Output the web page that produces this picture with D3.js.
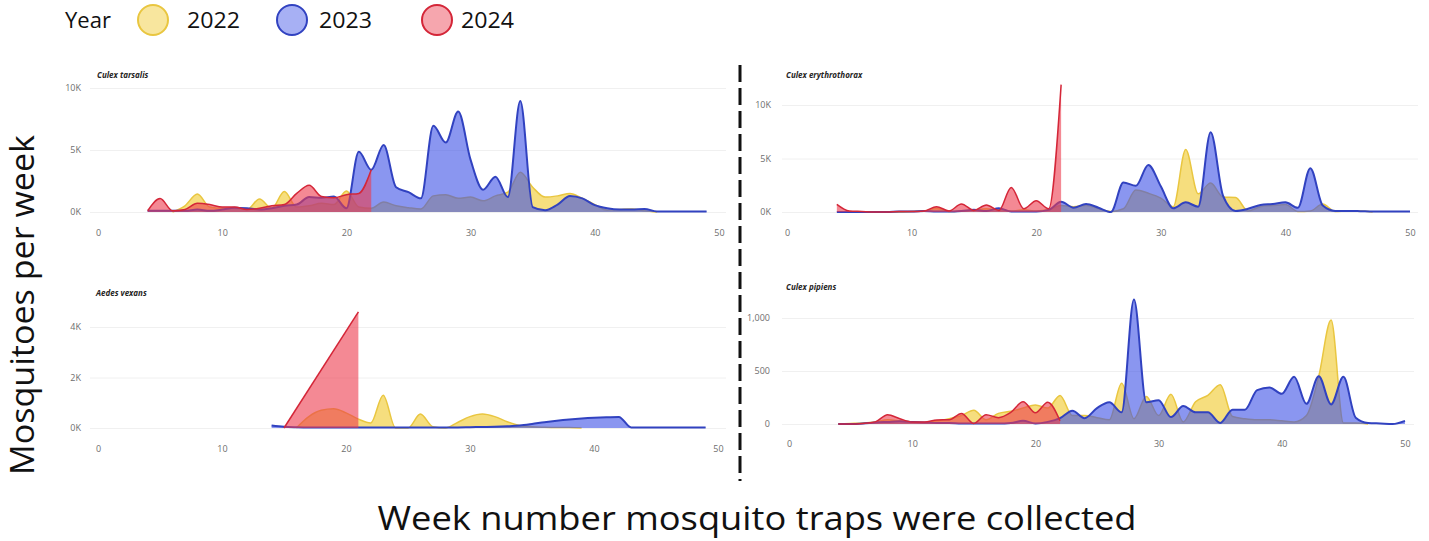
<!DOCTYPE html>
<html>
<head>
<meta charset="utf-8">
<script src="https://cdn.jsdelivr.net/npm/d3@7"></script>
<style>
  body { margin: 0; background: #fff; }
  svg { display: block; }
  text { font-family: "Open Sans", "Noto Sans", sans-serif; }
</style>
</head>
<body>
<svg id="chart" width="1429" height="541"></svg>
<script>
// ---- Data -------------------------------------------------------------
const years = ["2022", "2023", "2024"];
const weekTicks = [0, 10, 20, 30, 40, 50];

// Culex tarsalis (weekly counts)
const tarsalisStart2022 = 6;
const tarsalis2022 = [0, 500, 1450, 400, 300, 300, 200, 1050, 300, 1650, 400, 500, 700, 600, 1700, 400, 300, 800,
  500, 350, 250, 1300, 1400, 1100, 1200, 900, 1300, 1600, 3200, 2000, 1200, 1300, 1500, 1100, 600, 150, 200, 250, 100, 0];
const tarsalisStart2023 = 4;
const tarsalis2023 = [100, 100, 100, 100, 200, 100, 200, 350, 300, 200, 300, 500, 600, 1200, 1150, 1250, 300, 4850,
  3400, 5400, 2000, 1600, 1100, 6950, 5600, 8100, 4200, 1800, 2850, 1200, 8950, 400, 150, 600, 1300, 1100, 550, 300,
  200, 200, 250, 50, 50, 50, 50, 50];
const tarsalisStart2024 = 4;
const tarsalis2024 = [100, 1080, 100, 200, 700, 600, 400, 400, 200, 300, 500, 600, 1500, 2150, 1250, 1150, 1400, 1500, 3400];
const tarsalisTicks = [0, 5000, 10000];
const tarsalisTickLabels = ["0K", "5K", "10K"];

// Culex erythrothorax (weekly counts)
const erythroStart2022 = 8;
const erythro2022 = [0, 0, 50, 100, 350, 50, 100, 200, 300, 200, 100, 200, 100, 200, 600, 500, 600, 300, 50, 300,
  2050, 1750, 1300, 500, 5850, 1700, 2700, 1400, 1350, 100, 500, 600, 700, 50, 100, 750, 50, 100, 100, 0];
const erythroStart2023 = 4;
const erythro2023 = [0, 0, 0, 0, 0, 50, 50, 100, 50, 50, 100, 200, 100, 350, 50, 50, 50, 200, 950, 400, 750, 400, 0,
  2750, 2450, 4400, 2400, 350, 900, 500, 7450, 1500, 100, 300, 650, 750, 900, 400, 4100, 600, 100, 100, 80, 50, 50, 50, 50];
const erythroStart2024 = 4;
const erythro2024 = [720, 100, 50, 0, 0, 50, 50, 100, 500, 100, 750, 150, 650, 150, 2300, 300, 1050, 300, 11900];
const erythroTicks = [0, 5000, 10000];
const erythroTickLabels = ["0K", "5K", "10K"];

// Aedes vexans (weekly counts)
const vexansStart2022 = 16;
const vexans2022 = [0, 450, 700, 760, 600, 350, 200, 1300, 0, 0, 550, 50, 0, 220, 450, 550, 450, 250, 100, 50, 30, 20, 20, 0];
const vexansStart2023 = 14;
const vexans2023 = [100, 50, 30, 20, 20, 20, 20, 20, 20, 20, 20, 20, 20, 20, 20, 20, 30, 40, 50, 70, 100, 160, 230,
  290, 340, 380, 410, 430, 440, 20, 20, 20, 20, 20, 20, 20];
const vexansWeeks2024 = [15, 21];
const vexans2024 = [0, 4600];
const vexansTicks = [0, 2000, 4000];
const vexansTickLabels = ["0K", "2K", "4K"];

// Culex pipiens (weekly counts)
const pipiensStart2022 = 4;
const pipiens2022 = [0, 5, 10, 20, 40, 30, 20, 10, 30, 50, 80, 130, 40, 100, 120, 150, 180, 150, 270, 80, 80, 60, 40,
  385, 50, 260, 80, 280, 20, 210, 270, 370, 70, 50, 40, 40, 30, 20, 80, 450, 980, 10, 10, 0];
const pipiensStart2023 = 4;
const pipiens2023 = [0, 0, 5, 15, 20, 25, 20, 15, 10, 10, 5, 5, 5, 5, 10, 30, 5, 20, 55, 125, 55, 150, 205, 110, 1175,
  205, 225, 65, 170, 110, 110, 10, 135, 135, 320, 345, 285, 445, 190, 450, 185, 445, 60, 10, 5, 0, 30];
const pipiensStart2024 = 4;
const pipiens2024 = [0, 0, 5, 20, 88, 50, 20, 20, 38, 40, 100, 5, 88, 60, 110, 210, 105, 205, 30];
const pipiensTicks = [0, 500, 1000];
const pipiensTickLabels = ["0", "500", "1,000"];

// ---- Styling -----------------------------------------------------------
const fillColors = { "2022": "#F0C828", "2023": "#3C50E6", "2024": "#EC3A4C" };
const lineColors = { "2022": "#E9C640", "2023": "#3142C0", "2024": "#D42638" };
const lineWidths = { "2022": 1.5, "2023": 2, "2024": 1.5 };

function series(weeks, values, year) { return { weeks, values, year }; }
function fromStart(start, values, year) { return series(d3.range(start, start + values.length), values, year); }

const panels = [
  { title: "Culex tarsalis", left: 98, right: 719, bottom: 212, top: 88, yMax: 10000,
    ticks: tarsalisTicks, labels: tarsalisTickLabels, gridLeft: 90, gridRight: 726, labelRight: 81,
    titleX: 97, titleY: 78, xLabelY: 230,
    series: [fromStart(tarsalisStart2022, tarsalis2022, "2022"), fromStart(tarsalisStart2023, tarsalis2023, "2023"),
             fromStart(tarsalisStart2024, tarsalis2024, "2024")] },
  { title: "Culex erythrothorax", left: 787, right: 1410, bottom: 212, top: 105, yMax: 10000,
    ticks: erythroTicks, labels: erythroTickLabels, gridLeft: 782, gridRight: 1418, labelRight: 771,
    titleX: 786, titleY: 78, xLabelY: 230,
    series: [fromStart(erythroStart2022, erythro2022, "2022"), fromStart(erythroStart2023, erythro2023, "2023"),
             fromStart(erythroStart2024, erythro2024, "2024")] },
  { title: "Aedes vexans", left: 98, right: 718, bottom: 428, top: 327, yMax: 4000,
    ticks: vexansTicks, labels: vexansTickLabels, gridLeft: 90, gridRight: 726, labelRight: 81,
    titleX: 96, titleY: 296, xLabelY: 446,
    series: [fromStart(vexansStart2022, vexans2022, "2022"), fromStart(vexansStart2023, vexans2023, "2023"),
             series(vexansWeeks2024, vexans2024, "2024")] },
  { title: "Culex pipiens", left: 789, right: 1405, bottom: 424, top: 318, yMax: 1000,
    ticks: pipiensTicks, labels: pipiensTickLabels, gridLeft: 782, gridRight: 1414, labelRight: 770,
    titleX: 786, titleY: 290, xLabelY: 441,
    series: [fromStart(pipiensStart2022, pipiens2022, "2022"), fromStart(pipiensStart2023, pipiens2023, "2023"),
             fromStart(pipiensStart2024, pipiens2024, "2024")] }
];

// ---- Drawing -----------------------------------------------------------
const svg = d3.select("#chart");

function styleAxisText(sel) {
  sel.attr("font-family", null).attr("font-size", null);
  sel.selectAll("text").attr("font-size", 9).attr("fill", "#6e6e6e");
  sel.select(".domain").remove();
}

function drawPanel(p) {
  const x = d3.scaleLinear().domain([0, 50]).range([p.left, p.right]);
  const y = d3.scaleLinear().domain([0, p.yMax]).range([p.bottom, p.top]);
  const g = svg.append("g");

  // horizontal gridlines
  g.append("g")
    .attr("transform", `translate(${p.gridLeft},0)`)
    .call(d3.axisLeft(y).tickValues(p.ticks).tickFormat("").tickSize(-(p.gridRight - p.gridLeft)))
    .call(a => { a.select(".domain").remove(); a.selectAll("line").attr("stroke", "#f0f0f0"); });

  // y tick labels
  g.append("g")
    .attr("transform", `translate(${p.labelRight},0)`)
    .call(d3.axisLeft(y).tickValues(p.ticks).tickFormat((d, i) => p.labels[i]).tickSize(0).tickPadding(0))
    .call(styleAxisText);

  // x tick labels
  g.append("g")
    .attr("transform", `translate(0,${p.xLabelY})`)
    .call(d3.axisBottom(x).tickValues(weekTicks).tickFormat(d3.format("d")).tickSize(0).tickPadding(0))
    .call(styleAxisText);

  // panel title
  g.append("text")
    .attr("x", p.titleX).attr("y", p.titleY)
    .attr("font-size", 8).attr("font-weight", 700).attr("font-style", "italic")
    .attr("fill", "#252423")
    .text(p.title);

  const area = d3.area().x(d => x(d[0])).y0(y(0)).y1(d => y(d[1])).curve(d3.curveMonotoneX);
  const line = d3.line().x(d => x(d[0])).y(d => y(d[1])).curve(d3.curveMonotoneX);

  p.series.forEach(s => {
    const pts = s.weeks.map((w, i) => [w, s.values[i]]);
    g.append("path").datum(pts)
      .attr("d", area)
      .attr("fill", fillColors[s.year]).attr("fill-opacity", 0.6);
    g.append("path").datum(pts)
      .attr("d", line)
      .attr("fill", "none")
      .attr("stroke", lineColors[s.year]).attr("stroke-width", lineWidths[s.year])
      .attr("stroke-linejoin", "round");
  });
}

panels.forEach(drawPanel);

// divider between the two columns
svg.append("line")
  .attr("x1", 740).attr("x2", 740).attr("y1", 65).attr("y2", 481)
  .attr("stroke", "#111").attr("stroke-width", 3).attr("stroke-dasharray", "17,6");

// legend
const legend = svg.append("g");
legend.append("text").attr("x", 65).attr("y", 28).attr("font-size", 22).attr("fill", "#111").text("Year");
const legendX = [153, 292, 437];
const legendTextX = [187, 319, 461];
years.forEach((yr, i) => {
  legend.append("circle")
    .attr("cx", legendX[i]).attr("cy", 20).attr("r", 15)
    .attr("fill", fillColors[yr]).attr("fill-opacity", 0.45)
    .attr("stroke", lineColors[yr]).attr("stroke-width", 2);
  legend.append("text")
    .attr("x", legendTextX[i]).attr("y", 28)
    .attr("font-size", 22).attr("fill", "#111")
    .attr("textLength", 53).attr("lengthAdjust", "spacingAndGlyphs")
    .text(yr);
});

// axis titles
svg.append("text")
  .attr("transform", "translate(34,305) rotate(-90)")
  .attr("text-anchor", "middle")
  .attr("font-size", 32).attr("fill", "#111")
  .attr("textLength", 340).attr("lengthAdjust", "spacingAndGlyphs")
  .text("Mosquitoes per week");

svg.append("text")
  .attr("x", 757).attr("y", 530)
  .attr("text-anchor", "middle")
  .attr("font-size", 33).attr("fill", "#111")
  .attr("textLength", 759).attr("lengthAdjust", "spacingAndGlyphs")
  .text("Week number mosquito traps were collected");
</script>
</body>
</html>
